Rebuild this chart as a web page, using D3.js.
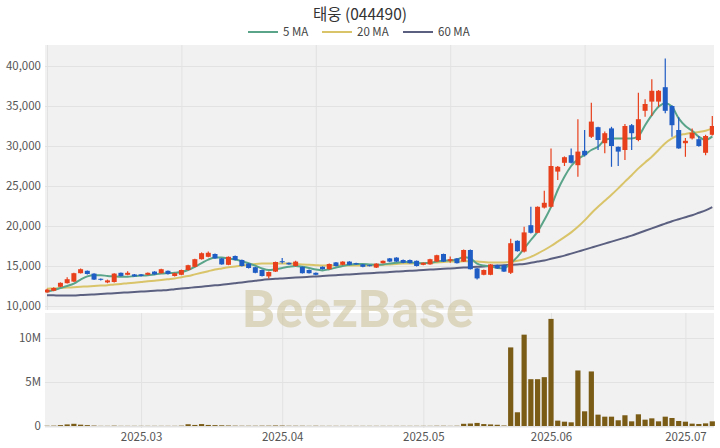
<!DOCTYPE html>
<html><head><meta charset="utf-8">
<script src="https://cdn.jsdelivr.net/npm/d3@7"></script>
<style>
html,body{margin:0;padding:0;background:#fff;}
svg text{font-family:"Noto Sans CJK KR","Noto Sans",sans-serif;}
</style></head>
<body><svg id="c" width="720" height="448"></svg>
<script>
// ---- data ----
const title = "태웅 (044490)";
const openP  = [11700,11900,12400,12850,13050,14100,14400,14050,13400,12950,13000,14150,13900,13950,13950,13900,14300,14100,14400,13750,13900,14500,14900,15850,16150,16500,15950,15150,16250,15750,15300,14850,14500,13700,14300,15600,15400,15000,14900,14500,14150,14900,14600,15450,15150,15550,15350,15200,15100,14800,15350,15950,16050,15750,15750,15650,15150,15200,15550,16500,15650,15950,15550,17000,14700,13900,13900,15100,15100,14150,18150,16800,20100,19150,22300,22400,26800,27900,28850,27600,29400,31150,32350,30350,32200,29900,29500,32600,30750,34400,35550,35550,37350,35000,32000,30350,30950,30850,29150,31400];
const highP  = [12150,12350,12950,13600,14150,14700,14450,14100,13450,13300,14100,14200,14350,14000,14000,14200,14350,14650,14450,14150,14550,15150,15900,16700,16800,16550,16000,16200,16300,15800,15350,14900,14550,14300,15550,16000,15450,15650,14950,14550,14200,14950,15300,15500,15600,15600,15400,15250,15150,15350,15700,16000,16100,15800,15800,15700,15450,15900,16400,16550,16200,16000,17050,17050,14750,14550,15250,15150,15150,18400,18200,19900,22400,22450,24400,29700,27500,28700,29700,33350,32000,35400,32400,31800,32400,29950,32750,32750,36650,35850,38350,37000,40950,35100,33600,31000,32200,31250,31400,33750];
const lowP   = [11650,11850,12350,12800,13000,14050,13950,13250,13200,12850,12950,13700,13850,13650,13700,13850,13900,14050,13950,13700,13850,14450,14850,15800,16100,15900,15150,15100,15700,14950,14700,14100,13700,13450,14250,15300,15150,14950,14050,14050,13850,14550,14550,14950,15100,15100,15150,14850,14950,14750,15300,15500,15500,15350,15300,14950,15100,15150,15500,15500,15400,15300,15500,14550,13300,13850,13850,14650,14250,14000,16800,16700,19050,19100,22200,22300,25750,27500,27800,26150,28700,31000,29500,29100,27400,27500,28250,29500,30600,33650,33750,34900,34100,31150,29650,28650,30800,29900,28850,31300];
const closeP = [12050,12250,12900,13350,14100,14600,14000,13300,13300,13200,14050,13750,14150,13700,13750,14150,13950,14600,14000,14100,14500,15100,15850,16600,16650,15950,15200,16150,15750,15000,14750,14150,13750,14250,15500,15500,15200,15550,14100,14100,13900,14600,15250,15000,15550,15150,15200,14900,15000,15300,15650,15550,15550,15400,15350,15000,15400,15850,16350,15550,15850,15350,17000,14600,13450,14500,15200,14700,14300,17850,16850,19200,19150,22400,22900,27500,27400,28600,27900,29300,28850,33050,30750,31600,30000,29300,32500,31600,33350,35250,36900,36900,34400,32600,29700,30650,31650,30000,31250,32500];
const volumeM = [0.03,0.04,0.10,0.18,0.25,0.15,0.10,0.05,0.02,0.02,0.04,0.02,0.02,0.02,0.02,0.02,0.02,0.02,0.02,0.02,0.04,0.20,0.12,0.22,0.12,0.10,0.08,0.06,0.04,0.03,0.03,0.03,0.04,0.04,0.06,0.05,0.03,0.03,0.03,0.02,0.03,0.02,0.02,0.02,0.02,0.02,0.02,0.02,0.02,0.02,0.02,0.02,0.02,0.02,0.02,0.02,0.02,0.02,0.03,0.03,0.02,0.03,0.25,0.28,0.35,0.22,0.18,0.14,0.06,8.93,1.56,10.38,5.32,5.32,5.55,12.17,0.61,0.49,0.42,6.31,1.67,6.20,1.29,1.06,1.06,0.65,1.22,0.53,1.33,0.72,0.87,0.53,1.06,0.91,0.57,0.49,0.27,0.23,0.30,0.53];
const ma5  = [11800,12000,12250,12500,12800,13300,13700,13850,13850,13750,13700,13650,13650,13750,13800,13850,13950,14050,14100,14150,14250,14500,14900,15350,15800,16050,16050,15950,15800,15600,15350,15050,14700,14500,14600,14750,14900,15000,14900,14750,14550,14450,14600,14800,15000,15150,15250,15250,15200,15150,15200,15300,15400,15500,15500,15350,15350,15400,15550,15650,15700,15800,16100,15950,15300,15050,14950,14750,14700,15350,16150,17200,18250,19300,20750,22400,24500,26150,27500,28350,28900,29500,29900,30750,30950,30950,30950,30950,31250,32600,33850,34900,35350,34900,33450,32500,31900,31150,30750,31200];
const ma20 = [12150,12200,12250,12300,12350,12400,12450,12500,12550,12600,12700,12750,12850,12900,13000,13100,13150,13250,13350,13450,13600,13750,13950,14150,14350,14550,14700,14850,14950,15050,15150,15250,15300,15300,15300,15300,15300,15250,15200,15150,15100,15050,15050,15050,15050,15050,15050,15050,15100,15100,15150,15200,15250,15300,15300,15350,15350,15400,15450,15500,15550,15550,15600,15600,15550,15500,15450,15450,15450,15500,15650,15850,16150,16550,17000,17500,18050,18600,19200,19900,20700,21600,22400,23150,23900,24700,25550,26350,27200,27950,28650,29500,30350,30950,31350,31500,31650,31750,31900,32200];
const ma60 = [11350,11330,11310,11300,11320,11360,11400,11450,11500,11550,11600,11650,11700,11750,11800,11850,11900,11950,12000,12100,12180,12260,12340,12420,12500,12580,12650,12750,12850,12950,13050,13150,13250,13330,13400,13450,13500,13550,13600,13650,13700,13750,13800,13850,13900,13950,14000,14050,14100,14150,14200,14250,14300,14350,14400,14450,14500,14550,14600,14650,14700,14750,14800,14850,14900,14950,15000,15050,15100,15150,15200,15250,15400,15550,15700,15900,16100,16300,16550,16800,17050,17300,17550,17800,18050,18300,18550,18800,19100,19400,19700,20000,20300,20600,20850,21100,21350,21650,21950,22350];
const priceTicks = [10000,15000,20000,25000,30000,35000,40000];
const volTicks = [0,5,10];
const monthLabels = ["2025.03","2025.04","2025.05","2025.06","2025.07"];
const monthIdx = [14,35,56,75,95];
const priceGridIdx = [0,20,40,60,80];
const maNames = ["5 MA","20 MA","60 MA"];
const maColors = ["#5aa58a","#d9c46a","#5b6080"];

// ---- layout ----
const svg = d3.select("#c");
const L = 45, R = 714;
const pTop = 45, pBot = 310, vTop = 313, vBot = 428;
const n = closeP.length;
const x = d3.scaleLinear().domain([0, n-1]).range([47, 712.3]);
const y = d3.scaleLinear().domain([10000, 40000]).range([306, 66]);
const yv = d3.scaleLinear().domain([0, 10]).range([426, 338]);
const bg = "#f1f1f1", grid = "#e2e2e2";

svg.append("rect").attr("x",L).attr("y",pTop).attr("width",R-L).attr("height",pBot-pTop).attr("fill",bg);
svg.append("rect").attr("x",L).attr("y",vTop).attr("width",R-L).attr("height",vBot-vTop).attr("fill",bg);

// price axes / grid
const gy = svg.append("g").attr("transform",`translate(${L},0)`)
  .call(d3.axisLeft(y).tickValues(priceTicks).tickFormat(d3.format(",")).tickSize(-(R-L)).tickPadding(4));
const gxp = svg.append("g").attr("transform",`translate(0,${pBot})`)
  .call(d3.axisBottom(x).tickValues(priceGridIdx).tickFormat("").tickSize(-(pBot-pTop)));
const gyv = svg.append("g").attr("transform",`translate(${L},0)`)
  .call(d3.axisLeft(yv).tickValues(volTicks).tickFormat(d => d===0 ? "0" : d+"M").tickSize(-(R-L)).tickPadding(4));
const gxv = svg.append("g").attr("transform",`translate(0,${vBot})`)
  .call(d3.axisBottom(x).tickValues(monthIdx).tickFormat((d,i)=>monthLabels[i]).tickSize(-(vBot-vTop)).tickPadding(3));
[gy,gxp,gyv,gxv].forEach(g=>{
  g.select(".domain").remove();
  g.selectAll(".tick line").attr("stroke",grid).attr("stroke-width",1);
  g.selectAll(".tick text").attr("fill","#555").attr("font-size",11.5).style("font-family","'Noto Sans CJK KR','Noto Sans',sans-serif");
});
gxp.selectAll(".tick text").remove();
gxv.selectAll(".tick text").attr("dy","0.9em");

// watermark
svg.append("text").attr("x",358).attr("y",327).attr("text-anchor","middle")
  .attr("font-size",52).attr("font-weight","bold").style("font-family","Roboto, 'Noto Sans', sans-serif")
  .attr("fill","#cbbf96").attr("fill-opacity",0.55).text("BeezBase");

// clip for price panel
svg.append("clipPath").attr("id","pc").append("rect").attr("x",L).attr("y",pTop).attr("width",R-L).attr("height",pBot-pTop);
const pg = svg.append("g").attr("clip-path","url(#pc)");

// MA lines
const line = d3.line().x((d,i)=>x(i)).y(d=>y(d)).curve(d3.curveMonotoneX);
[ma60, ma20, ma5].forEach((arr,k)=>{
  const ci = 2-k;
  pg.append("path").attr("d",line(arr)).attr("fill","none").attr("stroke",maColors[ci]).attr("stroke-width",2);
});

// candles
const upC = "#e8401c", dnC = "#1f5cc4";
const bw = 5;
const idx = d3.range(n);
pg.selectAll("line.w").data(idx).join("line")
  .attr("x1",i=>x(i)).attr("x2",i=>x(i))
  .attr("y1",i=>y(highP[i])).attr("y2",i=>y(lowP[i]))
  .attr("stroke",i=>closeP[i]>=openP[i]?upC:dnC).attr("stroke-width",1.2);
pg.selectAll("rect.b").data(idx).join("rect")
  .attr("x",i=>x(i)-bw/2).attr("width",bw)
  .attr("y",i=>y(Math.max(openP[i],closeP[i])))
  .attr("height",i=>Math.max(1,Math.abs(y(openP[i])-y(closeP[i]))))
  .attr("fill",i=>closeP[i]>=openP[i]?upC:dnC);

// volume
svg.append("g").selectAll("rect").data(idx).join("rect")
  .attr("x",i=>x(i)-2.6).attr("width",5.2)
  .attr("y",i=>yv(volumeM[i])).attr("height",i=>yv(0)-yv(volumeM[i]))
  .attr("fill","#7a5c17");

// title
svg.append("text").attr("x",360).attr("y",20).attr("text-anchor","middle")
  .attr("font-size",15.5).attr("fill","#333").text(title);

// legend
const lgX = [248, 322, 403];
maNames.forEach((nm,k)=>{
  svg.append("line").attr("x1",lgX[k]).attr("x2",lgX[k]+30).attr("y1",32).attr("y2",32)
    .attr("stroke",maColors[k]).attr("stroke-width",2);
  svg.append("text").attr("x",lgX[k]+35).attr("y",36).attr("font-size",11.5).attr("fill","#444").text(nm);
});
</script></body></html>
